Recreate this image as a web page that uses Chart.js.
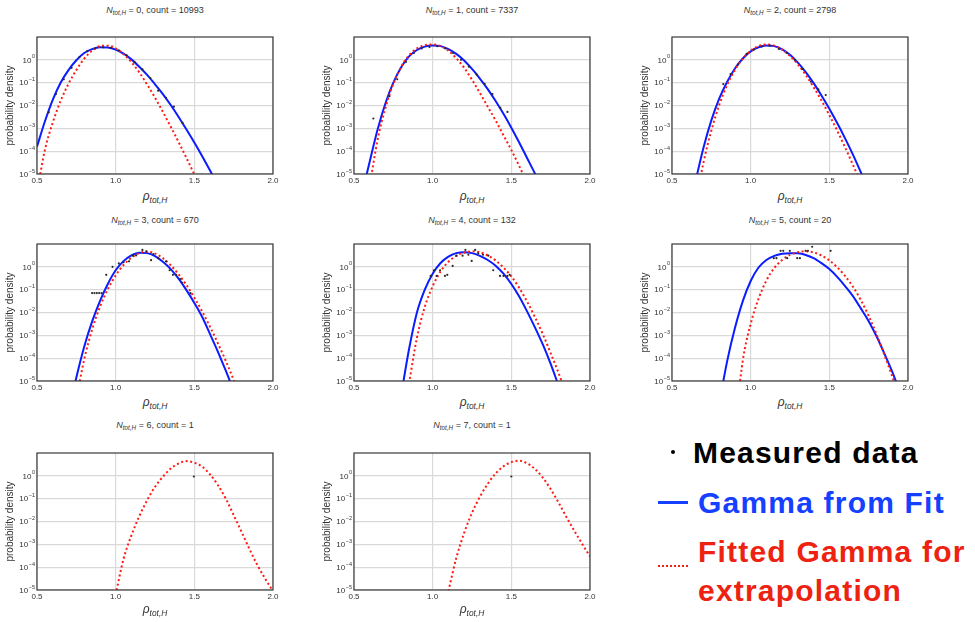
<!DOCTYPE html>
<html>
<head>
<meta charset="utf-8">
<script src="https://cdn.jsdelivr.net/npm/chart.js@4.4.1/dist/chart.umd.min.js"></script>
<style>
  body { margin: 0; background: #fff; font-family: "Liberation Sans", Arial, sans-serif; }
  #page { position: relative; width: 975px; height: 622px; overflow: hidden; }
  .panel { position: absolute; }
  .ttl { position: absolute; width: 236px; text-align: center; font-size: 9px; line-height: 12px; color: #333; white-space: nowrap; }
  .xl { position: absolute; width: 236px; text-align: center; font-size: 12px; line-height: 14px; color: #333; font-style: italic; }
  .sub { font-size: 70%; position: relative; top: .35em; font-style: italic; }
  .lg { position: absolute; font-size: 30px; line-height: 30px; font-weight: bold; letter-spacing: 1.2px; white-space: nowrap; }
</style>
</head>
<body>
<div id="page"></div>
<script>
// x grid shared by every fitted curve (rho_tot,H)
const XS = [0.50, 0.55, 0.60, 0.65, 0.70, 0.75, 0.80, 0.85, 0.90, 0.95, 1.00, 1.05, 1.10, 1.15, 1.20, 1.25,
            1.30, 1.35, 1.40, 1.45, 1.50, 1.55, 1.60, 1.65, 1.70, 1.75, 1.80, 1.85, 1.90, 1.95, 2.00];

const N_TOT = [0, 1, 2, 3, 4, 5, 6, 7];
const COUNTS = [10993, 7337, 2798, 670, 132, 20, 1, 1];
const Y_TICKS = [-5, -4, -3, -2, -1, 0];   // log10 of probability density
const X_TICKS = [0.5, 1.0, 1.5, 2.0];

// log10(probability density), "Gamma from Fit"
const FIT_0 = [-3.8, -2.7, -1.75, -1.0, -0.45, -0.02, 0.3, 0.47, 0.55, 0.54, 0.45, 0.27, 0.02, -0.3, -0.66, -1.07,
               -1.5, -1.98, -2.5, -3.05, -3.62, -4.22, -4.85, -5.5, null, null, null, null, null, null, null];
const FIT_1 = [null, -5.9, -4.45, -3.05, -1.9, -1.0, -0.32, 0.15, 0.43, 0.58, 0.63, 0.6, 0.47, 0.26, -0.03, -0.4,
               -0.82, -1.28, -1.8, -2.36, -2.97, -3.62, -4.3, -4.98, -5.7, null, null, null, null, null, null];
const FIT_2 = [null, null, null, -5.3, -3.85, -2.65, -1.7, -0.97, -0.38, 0.06, 0.37, 0.55, 0.63, 0.6, 0.46, 0.22,
               -0.12, -0.54, -1.02, -1.56, -2.14, -2.77, -3.44, -4.15, -4.92, -5.7, null, null, null, null, null];
const FIT_3 = [null, null, null, null, -6.4, -4.85, -3.5, -2.4, -1.5, -0.75, -0.15, 0.25, 0.5, 0.62, 0.6, 0.47,
               0.22, -0.1, -0.52, -1.02, -1.58, -2.2, -2.95, -3.72, -4.55, -5.42, null, null, null, null, null];
const FIT_4 = [null, null, null, null, null, null, -5.6, -3.6, -2.0, -1.0, -0.3, 0.17, 0.45, 0.6, 0.64, 0.6,
               0.48, 0.3, 0.05, -0.3, -0.75, -1.3, -1.95, -2.65, -3.4, -4.25, -5.2, null, null, null, null];
const FIT_5 = [null, null, null, null, null, null, -6.0, -4.15, -2.68, -1.5, -0.62, -0.03, 0.3, 0.48, 0.57, 0.6,
               0.59, 0.52, 0.38, 0.16, -0.1, -0.44, -0.84, -1.28, -1.82, -2.38, -3.04, -3.8, -4.6, -5.5, null];

// log10(probability density), "Fitted Gamma for extrapolation"
const EXT_0 = [-5.8, -3.95, -2.75, -1.8, -1.05, -0.45, 0.05, 0.4, 0.6, 0.62, 0.5, 0.25, -0.1, -0.55, -1.08, -1.65,
               -2.28, -2.93, -3.6, -4.3, -5.02, -5.8, null, null, null, null, null, null, null, null, null];
const EXT_1 = [null, null, -5.5, -3.5, -2.1, -1.05, -0.3, 0.2, 0.5, 0.64, 0.67, 0.6, 0.4, 0.07, -0.35, -0.87,
               -1.45, -2.05, -2.65, -3.3, -3.95, -4.65, -5.4, null, null, null, null, null, null, null, null];
const EXT_2 = [null, null, null, -6.3, -4.5, -3.1, -1.98, -1.1, -0.44, 0.05, 0.4, 0.6, 0.67, 0.62, 0.45, 0.17,
               -0.2, -0.66, -1.2, -1.78, -2.42, -3.1, -3.83, -4.6, -5.4, null, null, null, null, null, null];
const EXT_3 = [null, null, null, null, null, -5.8, -4.05, -2.75, -1.75, -0.98, -0.38, 0.08, 0.4, 0.6, 0.66, 0.58,
               0.38, 0.07, -0.33, -0.8, -1.35, -1.96, -2.63, -3.35, -4.12, -4.95, -5.8, null, null, null, null];
const EXT_4 = [null, null, null, null, null, null, null, -5.1, -3.1, -1.75, -0.85, -0.2, 0.22, 0.48, 0.62, 0.68,
               0.64, 0.5, 0.28, -0.03, -0.42, -0.92, -1.52, -2.2, -2.95, -3.78, -4.65, -5.6, null, null, null];
const EXT_5 = [null, null, null, null, null, null, null, null, -7.0, -4.1, -2.5, -1.4, -0.6, -0.05, 0.3, 0.52,
               0.64, 0.68, 0.63, 0.5, 0.28, -0.02, -0.4, -0.87, -1.45, -2.15, -2.95, -3.85, -4.8, -5.8, null];
const EXT_6 = [null, null, null, null, null, null, null, null, null, null, -5.2, -3.64, -2.61, -1.77, -1.07, -0.48,
               -0.04, 0.32, 0.54, 0.645, 0.57, 0.4, 0.06, -0.41, -1.0, -1.72, -2.45, -3.2, -3.9, -4.5, -5.05];
const EXT_7 = [null, null, null, null, null, null, null, null, null, null, null, null, -5.05, -3.6, -2.5, -1.62,
               -0.92, -0.35, 0.1, 0.42, 0.6, 0.66, 0.55, 0.3, -0.08, -0.58, -1.17, -1.8, -2.4, -2.98, -3.53];

// measured histogram points [rho, log10(density)]
const DOTS_0 = [[0.575, -2.3], [0.62, -1.5], [0.67, -0.85], [0.72, -0.35], [0.77, 0.12], [0.82, 0.38], [0.87, 0.5],
                [0.92, 0.55], [0.97, 0.53], [1.02, 0.42], [1.07, 0.2], [1.12, -0.1], [1.17, -0.42], [1.22, -0.8],
                [1.27, -1.35], [1.32, -1.66], [1.37, -2.05], [1.425, -2.76]];
const DOTS_1 = [[0.623, -2.57], [0.725, -1.59], [0.775, -0.85], [0.83, -0.1], [0.88, 0.3], [0.93, 0.5], [0.98, 0.56],
                [1.03, 0.6], [1.08, 0.5], [1.13, 0.3], [1.18, 0.0], [1.23, -0.3], [1.28, -0.65], [1.33, -1.05],
                [1.38, -1.5], [1.43, -2.1], [1.475, -2.28]];
const DOTS_2 = [[0.826, -1.06], [0.872, -0.62], [0.92, -0.2], [0.974, 0.26], [1.02, 0.45], [1.07, 0.58], [1.12, 0.62],
                [1.18, 0.47], [1.23, 0.3], [1.28, 0.0], [1.33, -0.4], [1.383, -0.96], [1.43, -1.29], [1.477, -1.54]];
const DOTS_3 = [[0.85, -1.15], [0.865, -1.15], [0.88, -1.15], [0.895, -1.15], [0.91, -1.15], [0.94, -0.35], [0.98, 0.0],
                [1.02, 0.15], [1.05, 0.2], [1.085, 0.24], [1.11, 0.49], [1.13, 0.5], [1.17, 0.74], [1.195, 0.68],
                [1.225, 0.29], [1.24, 0.56], [1.27, 0.38], [1.32, 0.24], [1.343, -0.15], [1.364, -0.35],
                [1.385, -0.35], [1.41, -0.54], [1.42, -0.69], [1.475, -1.15]];
const DOTS_4 = [[0.987, -0.4], [1.008, -0.15], [1.025, -0.4], [1.047, -0.15], [1.078, -0.4], [1.093, -0.35],
                [1.127, 0.04], [1.152, 0.49], [1.19, 0.49], [1.208, 0.74], [1.227, 0.53], [1.248, 0.26], [1.27, 0.74],
                [1.29, 0.59], [1.32, 0.53], [1.354, 0.49], [1.385, -0.15], [1.428, -0.4], [1.45, -0.4],
                [1.475, -0.4], [1.49, -0.35]];
const DOTS_5 = [[1.147, 0.38], [1.164, 0.38], [1.19, 0.7], [1.207, 0.7], [1.232, 0.38], [1.249, 0.7], [1.296, 0.38],
                [1.313, 0.38], [1.349, 0.7], [1.364, 0.7], [1.391, 0.88], [1.508, 0.7]];
const DOTS_6 = [[1.497, -0.03]];
const DOTS_7 = [[1.5, -0.03]];

const FIT = [FIT_0, FIT_1, FIT_2, FIT_3, FIT_4, FIT_5, null, null];
const EXT = [EXT_0, EXT_1, EXT_2, EXT_3, EXT_4, EXT_5, EXT_6, EXT_7];
const DOTS = [DOTS_0, DOTS_1, DOTS_2, DOTS_3, DOTS_4, DOTS_5, DOTS_6, DOTS_7];

const BLUE = '#0b1cff';
const RED = '#ff1a12';
const FONT = '"Liberation Sans", Arial, sans-serif';

// plot-area corners (left, top) of each panel
const PLOT_POS = [[37, 37], [354, 37], [672, 37], [37, 244], [354, 244], [672, 244], [37, 453], [354, 453]];
const PW = 236, PH = 137, LPAD = 37, TPAD = 8, RPAD = 10, BPAD = 14;
const TITLE_Y = [10, 220, 425];
const XLAB_Y = [197, 403, 610];

Chart.defaults.font.family = FONT;
const page = document.getElementById('page');

const curve = ys => XS.map((x, i) => ys[i] == null ? null : { x, y: ys[i] }).filter(Boolean);
const points = arr => arr.map(([x, y]) => ({ x, y }));

const frameAndPowers = {
  id: 'frameAndPowers',
  afterDatasetsDraw(chart) {
    const { ctx, chartArea: a, scales: { y } } = chart;
    ctx.save();
    ctx.strokeStyle = '#3a3a3a';
    ctx.lineWidth = 1.2;
    ctx.strokeRect(a.left, a.top, a.width, a.height);
    ctx.fillStyle = '#333';
    ctx.textBaseline = 'middle';
    ctx.textAlign = 'right';
    y.ticks.forEach(t => {
      const py = y.getPixelForValue(t.value);
      const exp = t.value === 0 ? '0' : '\u2212' + Math.abs(t.value);
      ctx.font = `5.5px ${FONT}`;
      const ew = ctx.measureText(exp).width;
      ctx.fillText(exp, a.left - 2, py - 3);
      ctx.font = `8px ${FONT}`;
      ctx.fillText('10', a.left - 2.5 - ew, py + 0.5);
    });
    ctx.restore();
  }
};

function addPanel(i) {
  const [pl, pt] = PLOT_POS[i];
  const row = Math.floor(i / 3);

  const box = document.createElement('div');
  box.className = 'panel';
  box.style.left = (pl - LPAD) + 'px';
  box.style.top = (pt - TPAD) + 'px';
  const canvas = document.createElement('canvas');
  canvas.width = LPAD + PW + RPAD;
  canvas.height = TPAD + PH + BPAD;
  box.appendChild(canvas);
  page.appendChild(box);

  const ttl = document.createElement('div');
  ttl.className = 'ttl';
  ttl.style.left = pl + 'px';
  ttl.style.top = (TITLE_Y[row] - 6) + 'px';
  ttl.innerHTML = `<i>N</i><span class="sub">tot,H</span> = ${N_TOT[i]}, count = ${COUNTS[i]}`;
  page.appendChild(ttl);

  const xl = document.createElement('div');
  xl.className = 'xl';
  xl.style.left = pl + 'px';
  xl.style.top = (XLAB_Y[row] - 8) + 'px';
  xl.innerHTML = `ρ<span class="sub">tot,H</span>`;
  page.appendChild(xl);

  const datasets = [
    { label: 'Measured data', data: points(DOTS[i]), showLine: false, pointRadius: 1.1,
      pointBackgroundColor: '#2a2a2a', pointBorderWidth: 0 },
    { label: 'Fitted Gamma for extrapolation', data: curve(EXT[i]), showLine: true, borderColor: RED,
      borderWidth: 2, borderDash: [2, 2.6], pointRadius: 0, cubicInterpolationMode: 'monotone', clip: 0 },
  ];
  if (FIT[i]) {
    datasets.push({ label: 'Gamma from Fit', data: curve(FIT[i]), showLine: true, borderColor: BLUE,
      borderWidth: 2, pointRadius: 0, cubicInterpolationMode: 'monotone', clip: 0 });
  }

  new Chart(canvas, {
    type: 'scatter',
    data: { datasets },
    options: {
      responsive: false,
      animation: false,
      devicePixelRatio: 1,
      layout: { padding: { top: TPAD, right: RPAD, left: 0, bottom: 0 } },
      plugins: { legend: { display: false }, tooltip: { enabled: false } },
      scales: {
        x: {
          type: 'linear', min: 0.5, max: 2.0,
          afterBuildTicks: s => { s.ticks = X_TICKS.map(v => ({ value: v })); },
          afterFit: s => { s.height = BPAD; },
          ticks: { font: { size: 8 }, color: '#333', padding: 2, callback: v => v.toFixed(1), maxRotation: 0 },
          grid: { color: '#d9d9d9', lineWidth: 1.2, drawTicks: false },
          border: { display: false },
        },
        y: {
          type: 'linear', min: -5, max: 1,
          afterBuildTicks: s => { s.ticks = Y_TICKS.map(v => ({ value: v })); },
          afterFit: s => { s.width = LPAD; },
          ticks: { display: false },
          grid: { color: '#d9d9d9', lineWidth: 1.2, drawTicks: false },
          border: { display: false },
          title: { display: true, text: 'probability density', color: '#333', font: { size: 10 }, padding: { top: 4, bottom: 0 } },
        },
      },
    },
    plugins: [frameAndPowers],
  });
}

N_TOT.forEach((n, i) => addPanel(i));

// legend block (bottom right)
page.insertAdjacentHTML('beforeend', `
  <div style="position:absolute;left:671px;top:450px;width:4px;height:4px;border-radius:2px;background:#000"></div>
  <div class="lg" style="left:693px;top:438px;color:#000">Measured data</div>
  <div style="position:absolute;left:658px;top:501px;width:30px;height:3px;background:#1540ff"></div>
  <div class="lg" style="left:698px;top:488px;color:#1540ff">Gamma from Fit</div>
  <div style="position:absolute;left:658px;top:565px;width:30px;height:2px;background:repeating-linear-gradient(90deg,#ee2211 0 2px,transparent 2px 4px)"></div>
  <div class="lg" style="left:698px;top:537px;color:#ee2211">Fitted Gamma for</div>
  <div class="lg" style="left:698px;top:576px;color:#ee2211">extrapolation</div>
`);
</script>
</body>
</html>
